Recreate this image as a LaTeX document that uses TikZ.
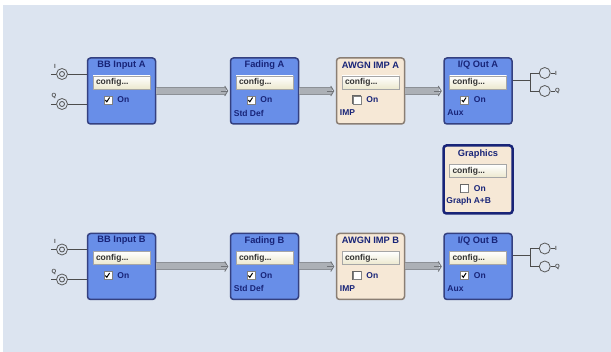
\documentclass[tikz,border=0pt]{standalone}
\usepackage{fontspec}
\setmainfont{Liberation Sans}
\usetikzlibrary{arrows.meta}

\definecolor{panel}{RGB}{220,228,240}
\definecolor{blkblue}{RGB}{104,142,232}
\definecolor{blkedge}{RGB}{52,64,128}
\definecolor{ttlblue}{RGB}{24,36,120}
\definecolor{imp}{RGB}{246,232,214}
\definecolor{impedge}{RGB}{138,126,116}
\definecolor{pipeedge}{RGB}{140,144,150}
\definecolor{pipefill}{RGB}{172,176,182}
\definecolor{btnfill}{RGB}{236,232,206}

\tikzset{
  blk/.style={draw=blkedge,fill=blkblue,line width=1.5pt,rounded corners=3pt,
    minimum width=68pt,minimum height=66pt},
  impblk/.style={blk,draw=impedge,fill=imp},
  grblk/.style={blk,draw=ttlblue,fill=imp,line width=2.5pt,minimum width=69pt,minimum height=68pt},
  ttl/.style={font=\bfseries\fontsize{9.3}{10}\selectfont,text=ttlblue,inner sep=0pt},
  btn/.style={draw=gray!70,top color=white,bottom color=btnfill,minimum width=57pt,
    minimum height=13pt,inner sep=0pt},
  btntxt/.style={font=\bfseries\fontsize{8.5}{9}\selectfont,text=black!80,inner sep=0pt},
  lbl/.style={font=\bfseries\fontsize{8.5}{9}\selectfont,text=ttlblue,inner sep=0pt},
  chk/.style={draw=gray,fill=white,minimum size=8pt,inner sep=0pt},
  pipe/.style={draw=pipeedge,line width=8pt,shorten >=4pt,
    postaction={draw=pipefill,line width=6pt,shorten >=4pt}},
  chev/.style={draw=pipeedge!80!black,line width=0.9pt,-{Straight Barb[length=3pt,width=10pt]}},
  jack/.style={circle,draw=gray!70!black,line width=0.8pt,minimum size=11pt,inner sep=0pt},
  wire/.style={draw=gray!60!black,line width=0.8pt},
  io/.style={font=\bfseries\fontsize{6}{7}\selectfont,text=gray!60!black,inner sep=0pt}
}

\begin{document}
\begin{tikzpicture}[x=1pt,y=-1pt]
\fill[white] (0,0) rectangle (611,352);
\fill[panel] (3,5) rectangle (611,352);
\useasboundingbox (0,0) rectangle (611,352);

\foreach \r/\yy in {A/91,B/266.5}{
  \node[blk] (bb\r) at (121.5,\yy) {};
  \node[blk] (fad\r) at (264.5,\yy) {};
  \node[impblk] (awgn\r) at (370.5,\yy) {};
  \node[blk] (iq\r) at (478,\yy) {};

  \foreach \b/\t/\s/\c in {bb/{BB Input}/{}/1,fad/{Fading}/{Std Def}/1,
      awgn/{AWGN IMP}/{IMP}/0,iq/{I/Q Out}/{Aux}/1}{
    \node[ttl] (\b\r-ttl) at ([yshift=-8pt]\b\r.north) {\t\ \r};
    \node[btn] (\b\r-btn) at ([yshift=8.5pt]\b\r.center) {};
    \node[btntxt,anchor=west] (\b\r-cfg) at ([xshift=3pt]\b\r-btn.west) {config...};
    \node[chk] (\b\r-chk) at ([xshift=-13.5pt,yshift=-9pt]\b\r.center) {};
    \ifnum\c=1
      \draw[black,line width=1pt] ([xshift=1.5pt]\b\r-chk.west) -- ++(1.5,1.8) -- ++(2.8,-4.3);
    \else
      \draw[gray!80!black,line width=0.8pt] (\b\r-chk.south west) -- (\b\r-chk.north west) -- (\b\r-chk.north east);
    \fi
    \node[lbl,anchor=west] (\b\r-on) at ([xshift=5pt]\b\r-chk.east) {On};
    \node[lbl,anchor=west] (\b\r-sub) at ([xshift=4pt,yshift=-22pt]\b\r.west) {\s};
  }

  \draw[pipe] (bb\r.east) -- (fad\r.west);
  \draw[chev] ([xshift=-9pt]fad\r.west) -- ([xshift=-1.5pt]fad\r.west);
  \draw[pipe] (fad\r.east) -- (awgn\r.west);
  \draw[chev] ([xshift=-9pt]awgn\r.west) -- ([xshift=-1.5pt]awgn\r.west);
  \draw[pipe] (awgn\r.east) -- (iq\r.west);
  \draw[chev] ([xshift=-9pt]iq\r.west) -- ([xshift=-1.5pt]iq\r.west);

  \node[jack] (iin\r) at (62,\yy-17) {};
  \node[jack] (qin\r) at (62,\yy+13) {};
  \draw[wire] (iin\r) circle (2.5pt) (qin\r) circle (2.5pt);
  \draw[wire] (iin\r.east) -- (iin\r -| bb\r.west);
  \draw[wire] (qin\r.east) -- (qin\r -| bb\r.west);
  \draw[wire] (iin\r.west) -- ++(-5,0);
  \draw[wire] (qin\r.west) -- ++(-5,0);
  \node[io] (iinl\r) at ([xshift=-7pt,yshift=8pt]iin\r.center) {I};
  \node[io] (qinl\r) at ([xshift=-8pt,yshift=8pt]qin\r.center) {Q};

  \coordinate (br\r) at ([xshift=18pt,yshift=11pt]iq\r.east);
  \node[jack] (iout\r) at ([xshift=14pt,yshift=7pt]br\r) {};
  \node[jack] (qout\r) at ([xshift=14pt,yshift=-11pt]br\r) {};
  \draw[wire] ([yshift=11pt]iq\r.east) -- (br\r);
  \draw[wire] (iout\r.west) -- (iout\r.west -| br\r) -- (qout\r.west -| br\r) -- (qout\r.west);
  \draw[wire] (iout\r.east) -- ++(4,0) node[io,anchor=west] (ioutl\r) {I};
  \draw[wire] (qout\r.east) -- ++(4,0) node[io,anchor=west] (qoutl\r) {Q};
}

\node[grblk] (graph) at (478,179.5) {};
\node[ttl] (graph-ttl) at ([yshift=-10pt]graph.north) {Graphics};
\node[btn] (graph-btn) at ([yshift=8.5pt]graph.center) {};
\node[btntxt,anchor=west] (graph-cfg) at ([xshift=3pt]graph-btn.west) {config...};
\node[chk] (graph-chk) at ([xshift=-13.5pt,yshift=-9pt]graph.center) {};
\draw[gray!80!black,line width=0.8pt] (graph-chk.south west) -- (graph-chk.north west) -- (graph-chk.north east);
\node[lbl,anchor=west] (graph-on) at ([xshift=5pt]graph-chk.east) {On};
\node[lbl,anchor=west] (graph-sub) at ([xshift=4pt,yshift=-22pt]graph.west) {Graph A+B};
\end{tikzpicture}
\end{document}
